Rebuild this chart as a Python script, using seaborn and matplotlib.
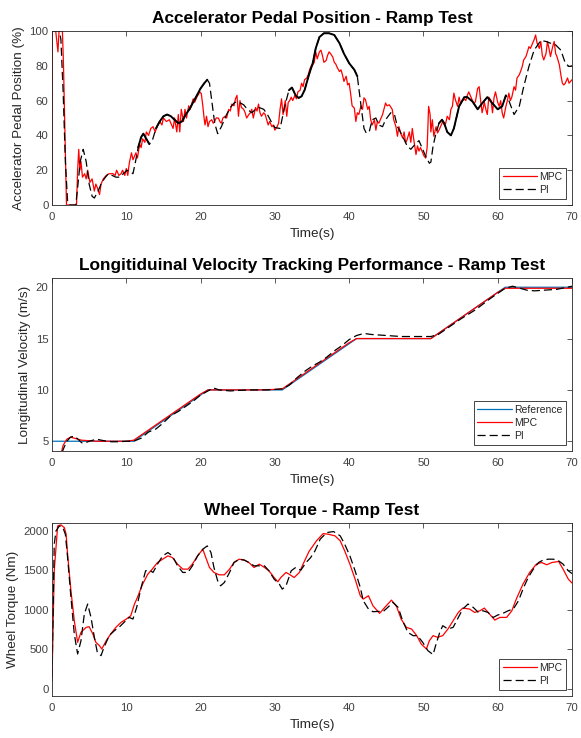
import numpy as np
import pandas as pd
import matplotlib
matplotlib.use("Agg")
import matplotlib.pyplot as plt
import seaborn as sns

# ---------------- Data ----------------
time_ticks = [0, 10, 20, 30, 40, 50, 60, 70]

# Panel 1: accelerator pedal position (%)
pedal_time_mpc = [0, 0.05, 0.5, 0.7, 0.8, 0.95, 1.4, 1.55, 1.75, 1.95, 3.3, 3.45, 3.6, 3.75, 3.9, 4.1, 4.4, 4.6, 4.8, 5.1,
                  5.4, 5.7, 5.9, 6.1, 6.4, 6.6, 6.9, 7.3, 7.7, 8.2, 8.5, 8.7, 9.0, 9.3, 9.5, 9.8, 10.0, 10.2, 10.4, 10.7,
                  10.9, 11.3, 11.5, 11.8, 12.0, 12.2, 12.5, 12.7, 13.0, 13.3, 13.6, 13.9, 14.2, 14.5, 14.8, 15.0, 15.4,
                  15.8, 16.1, 16.3, 16.5, 16.8, 17.0, 17.2, 17.4, 17.7, 17.9, 18.1, 18.4, 18.6, 18.8, 19.0, 19.2, 19.5,
                  19.9, 20.1, 20.3, 20.5, 20.6, 20.8, 21.0, 21.2, 21.5, 21.7, 21.9, 22.1, 22.4, 22.6, 22.8, 23.0, 23.3,
                  23.5, 23.8, 24.0, 24.2, 24.5, 24.7, 24.9, 25.1, 25.3, 25.5, 25.8, 26.0, 26.2, 26.5, 26.7, 26.9, 27.1,
                  27.4, 27.6, 27.8, 28.0, 28.2, 28.5, 28.7, 28.9, 29.1, 29.3, 29.6, 29.8, 30.0, 30.3, 30.5, 30.7, 30.9,
                  31.1, 31.4, 31.6, 31.8, 32.0, 32.2, 32.4, 32.7, 32.9, 33.1, 33.4, 33.6, 33.8, 34.0, 34.3, 34.5, 34.7,
                  34.9, 35.1, 35.3, 35.5, 35.7, 36.0, 36.2, 36.4, 36.6, 36.9, 37.1, 37.3, 37.5, 37.8, 38.0, 38.2, 38.4,
                  38.7, 38.9, 39.1, 39.3, 39.6, 39.8, 40.0, 40.2, 40.4, 40.7, 40.9, 41.1, 41.3, 41.6, 41.8, 42.0, 42.2,
                  42.5, 42.7, 42.9, 43.1, 43.4, 43.6, 43.8, 44.0, 44.3, 44.5, 44.9, 45.1, 45.4, 45.8, 46.0, 46.3, 46.5,
                  46.7, 47.0, 47.2, 47.4, 47.6, 47.8, 48.1, 48.3, 48.5, 48.7, 49.0, 49.2, 49.4, 49.6, 49.9, 50.1, 50.3,
                  50.5, 50.7, 50.9, 51.0, 51.2, 51.4, 51.7, 51.9, 52.1, 52.4, 52.6, 52.8, 53.0, 53.2, 53.5, 53.7, 53.9,
                  54.1, 54.3, 54.6, 54.8, 55.0, 55.2, 55.5, 55.7, 55.9, 56.1, 56.4, 56.6, 56.8, 57.0, 57.3, 57.5, 57.7,
                  57.9, 58.2, 58.4, 58.6, 58.8, 59.1, 59.3, 59.5, 59.7, 60.0, 60.2, 60.4, 60.6, 60.8, 61.1, 61.3, 61.5,
                  61.7, 61.9, 62.2, 62.4, 62.6, 62.9, 63.1, 63.3, 63.5, 63.8, 64.0, 64.2, 64.4, 64.7, 64.9, 65.1, 65.3,
                  65.6, 65.8, 66.0, 66.2, 66.5, 66.7, 66.9, 67.1, 67.4, 67.6, 67.8, 68.0, 68.3, 68.5, 68.7, 68.9, 69.1,
                  69.4, 69.6, 70.0]
pedal_mpc = [0, 100, 100, 92, 88, 100, 100, 80, 40, 0, 0, 20, 32, 20, 25, 16, 18, 15, 20, 13,
             15, 8, 12, 10, 6, 12, 15, 17, 18, 18, 17, 20, 17, 18, 20, 17, 21, 17, 24, 30,
             26, 30, 27, 35, 33, 38, 36, 42, 40, 44, 45, 42, 46, 48, 46, 50, 48,
             49, 46, 44, 50, 42, 52, 42, 55, 48, 55, 50, 57, 55, 58, 61, 59, 62,
             65, 64, 57, 49, 46, 51, 45, 48, 49, 47, 48, 50, 50, 48, 47, 50, 51,
             50, 55, 54, 58, 57, 61, 63, 51, 60, 56, 55, 53, 50, 52, 53, 55, 50,
             56, 54, 58, 53, 51, 53, 52, 49, 46, 48, 45, 46, 43, 45, 47, 55, 61,
             52, 60, 51, 59, 60, 62, 60, 63, 61, 65, 66, 70, 68, 72, 73, 75, 78,
             80, 80.5, 82, 88, 84, 88, 89, 86, 82, 83, 86, 88, 87, 85, 82, 81, 79,
             76.7, 77.7, 74.8, 71, 74, 69, 70, 64, 57, 55.7, 48, 53, 52, 57, 55, 61.6, 60.5,
             55, 56.7, 49, 46, 49, 43, 48, 47, 50, 52, 58.6, 57, 57.6, 55, 49, 45, 39.5,
             45, 40.5, 38.5, 42, 35.7, 37.5, 42, 36, 44, 37.6, 29, 34, 31, 33, 30, 28, 27,
             33, 56.7, 52, 42, 49, 39.5, 45, 41.4, 43, 46, 48, 46, 47, 51, 49, 55, 56.7,
             64.3, 60.5, 56.7, 62, 58, 59.5, 61, 60, 63, 65, 62, 60, 58, 59.5, 67, 68, 60,
             53, 59, 55, 52, 62, 60, 53, 61.6, 65, 59, 56.7, 60, 53, 50, 56.7, 60, 64.3,
             60, 62, 68, 66, 73, 74.8, 77, 79.6, 83.4, 85.3, 88, 91, 90, 93, 95, 97.7, 93,
             90, 94, 86, 83.4, 87, 94, 90, 85.3, 91, 94, 87, 85, 80.5, 74.8, 70, 69, 70,
             73, 70, 72]

pedal_time_pi = [0, 1.0, 1.2, 1.5, 1.8, 2.1, 2.3, 3.2, 3.5, 3.8, 4.2, 4.6, 5.0, 5.4, 5.7, 6.2, 6.7, 7.2, 7.6, 8.1,
                 8.6, 9.1, 9.6, 10.1, 10.5, 10.9, 11.2, 11.6, 12.0, 12.3, 12.7, 13.1, 13.5, 14.0, 14.5, 15.0, 15.5,
                 16.0, 16.5, 17.0, 17.5, 18.0, 18.5, 19.0, 19.5, 20.0, 20.5, 20.9, 21.2, 21.5, 21.9, 22.3, 22.8,
                 23.5, 24.0, 24.6, 25.2, 25.8, 26.3, 26.9, 27.4, 27.9, 28.5, 29.0, 29.5, 30.0, 30.7, 31.0, 31.4,
                 31.9, 32.3, 32.8, 33.2, 33.6, 34.0, 34.6, 35.1, 35.5, 36.0, 36.6, 37.3, 38.0, 38.7, 39.3, 40.0,
                 40.7, 41.1, 41.6, 42.0, 42.3, 42.7, 43.1, 43.6, 44.0, 44.5, 44.9, 45.6, 46.1, 46.5, 47.2, 47.8,
                 48.3, 48.7, 49.4, 49.9, 50.3, 50.8, 51.0, 51.3, 51.7, 52.1, 52.5, 52.8, 53.2, 53.7, 54.1, 54.8,
                 55.5, 55.9, 56.6, 57.3, 57.9, 58.6, 59.3, 60.0, 60.6, 61.1, 61.5, 62.2, 62.9, 63.5, 64.2, 64.9,
                 65.8, 66.5, 67.1, 67.8, 68.5, 69.1, 69.6, 70.0]
pedal_pi = [100, 100, 95, 65, 25, 2, 0, 0, 12, 25, 32, 25, 12, 5, 4, 8, 13, 16, 18, 17,
            16, 16, 18, 20, 19, 18, 24, 33, 39, 41, 38, 35, 37, 44, 48, 51, 52,
            51, 49, 47, 48, 52, 55, 59, 63, 67, 70, 72, 70, 60, 47, 41, 45,
            52, 56, 59, 59, 57.6, 55, 53, 55, 56, 55, 52, 48, 44.5, 44, 50, 58,
            66, 67.5, 63, 61.5, 62.5, 66, 75, 81.5, 90, 96.5, 98.7, 98.7, 97.7, 93, 87, 81.5,
            77.7, 74, 57, 44, 41.4, 42, 49, 50, 46, 45, 49, 53, 52, 45, 39.5, 34,
            32, 34, 37, 32, 28, 24, 24.6, 34, 41.4, 47, 49, 47, 42, 40, 44, 56.7,
            62, 62, 59.5, 55, 58.4, 62, 58.4, 55, 56.7, 63, 60, 52, 56.7, 68, 79.6, 89,
            94.5, 94, 93, 92, 89, 81.5, 79.6, 80]

# Panel 2: longitudinal velocity (m/s)
vel_time_ref = [0, 11, 21, 31, 41, 51, 61, 70]
vel_ref = [5, 5, 10, 10, 15, 15, 20, 20]

vel_time_mpc = [0, 1, 1.5, 2, 2.5, 3, 4, 5, 6, 8, 10, 11, 12, 14, 16, 18, 20, 21, 22, 25, 28, 30, 31,
                32, 34, 36, 38, 40, 41, 42, 45, 48, 51, 52, 54, 56, 58, 60, 61, 62, 65, 68, 70]
vel_mpc = [1.5, 3.2, 4.6, 5.2, 5.4, 5.3, 5.1, 5.05, 5.0, 5.0, 5.0, 5.1, 5.6, 6.6, 7.6, 8.6, 9.6, 10.0, 10.0,
           10.0, 10.0, 10.05, 10.1, 10.6, 11.6, 12.6, 13.6, 14.6, 15.0, 15.0, 15.0, 15.0, 15.0, 15.5, 16.5,
           17.5, 18.5, 19.5, 19.9, 19.9, 19.9, 19.9, 19.9]

vel_time_pi = [0, 1, 1.5, 2, 2.5, 3, 3.5, 4, 4.5, 5, 6, 7, 8, 9, 10, 11, 12, 13, 14, 15, 16, 17, 18, 19,
               20, 21, 21.7, 22.5, 24, 25, 27, 29, 30, 31, 32, 33, 34, 35, 36, 37, 38, 39, 40, 41, 42, 43,
               45, 47, 49, 51, 52, 53, 55, 57, 59, 60, 61, 62, 63, 64, 65, 66, 68, 70]
vel_pi = [0.5, 2.8, 4.2, 5.0, 5.4, 5.5, 5.2, 4.85, 4.85, 5.0, 5.2, 5.05, 4.95, 4.95, 5.0, 5.0, 5.3, 5.9,
          6.2, 6.8, 7.5, 7.9, 8.4, 8.9, 9.5, 9.9, 10.2, 10.0, 9.9, 9.95, 10.0, 10.0, 10.05, 10.1, 10.5,
          11.2, 11.8, 12.3, 12.7, 13.2, 13.8, 14.3, 14.9, 15.3, 15.5, 15.4, 15.3, 15.2, 15.2, 15.2, 15.4,
          15.9, 16.9, 17.8, 18.9, 19.4, 19.9, 20.1, 19.9, 19.7, 19.65, 19.7, 19.8, 20.1]

# Panel 3: wheel torque (Nm)
torque_time_mpc = [0, 0.3, 0.76, 1.2, 1.66, 1.9, 2.1, 2.55, 3.0, 3.45, 3.9, 4.6, 5.0, 5.5, 5.9, 6.4, 6.7, 7.3,
                   7.9, 8.6, 9.3, 10.0, 10.6, 11.1, 11.5, 12.2, 12.9, 13.5, 14.2, 14.9, 15.6, 16.2, 16.9, 17.6,
                   18.3, 18.9, 19.6, 20.3, 20.7, 21.2, 21.8, 22.5, 23.2, 23.9, 24.5, 25.2, 25.9, 26.5, 27.2,
                   27.9, 28.6, 29.2, 29.9, 30.4, 30.8, 31.5, 31.9, 32.6, 33.3, 33.9, 34.6, 35.6, 36.5, 37.2,
                   38.1, 38.8, 39.4, 40.1, 40.8, 41.5, 41.9, 42.6, 43.2, 44.1, 44.8, 45.7, 46.4, 47.0, 47.7,
                   48.4, 49.1, 49.7, 50.4, 50.8, 51.3, 51.9, 52.6, 53.3, 54.0, 54.7, 55.3, 56.2, 56.9, 57.6,
                   58.2, 58.9, 59.6, 60.3, 61.2, 61.9, 62.5, 63.4, 64.3, 65.2, 65.9, 66.6, 67.3, 68.2, 68.8,
                   69.5, 70.0]
torque_mpc = [105, 1495, 2063, 2076, 2042, 1958, 1705, 1242, 863, 590, 716, 779, 787, 695, 590, 547, 505, 610,
              695, 779, 842, 884, 926, 1074, 1158, 1326, 1453, 1516, 1600, 1642, 1684, 1663, 1579, 1516,
              1516, 1579, 1684, 1768, 1663, 1537, 1474, 1444, 1444, 1516, 1600, 1642, 1630, 1600, 1537,
              1579, 1537, 1495, 1410, 1356, 1410, 1474, 1453, 1410, 1474, 1600, 1740, 1874, 1966, 1958,
              1937, 1874, 1747, 1579, 1390, 1179, 1137, 1179, 1053, 956, 1032, 1124, 1040, 884, 779,
              758, 674, 568, 505, 610, 674, 653, 674, 758, 863, 968, 1023, 1011, 968, 989,
              1023, 947, 872, 905, 905, 989, 1137, 1326, 1474, 1579, 1600, 1571, 1600, 1613, 1516,
              1390, 1340]

torque_time_pi = [0, 0.3, 0.54, 1.0, 1.43, 1.8, 2.1, 2.55, 3.0, 3.45, 3.9, 4.35, 4.8, 5.25, 5.7, 6.1, 6.6, 7.0,
                  7.7, 8.4, 9.1, 9.7, 10.4, 10.9, 11.4, 12.0, 12.6, 13.1, 13.6, 14.2, 14.9, 15.6, 16.2, 16.9,
                  17.6, 18.3, 18.9, 19.6, 20.3, 20.9, 21.4, 21.8, 22.3, 22.7, 23.2, 23.9, 24.5, 25.2, 25.9,
                  26.5, 27.2, 27.9, 28.6, 29.2, 29.9, 30.6, 31.0, 31.5, 32.2, 32.8, 33.5, 34.2, 34.8, 35.4,
                  36.1, 37.0, 37.9, 38.8, 39.4, 40.1, 40.8, 41.5, 41.9, 42.6, 43.2, 43.9, 44.6, 45.2, 45.9,
                  46.6, 47.2, 47.9, 48.6, 49.2, 49.9, 50.6, 51.3, 51.7, 52.2, 52.6, 53.3, 54.0, 54.7, 55.3,
                  56.0, 56.7, 57.4, 58.0, 58.7, 59.4, 60.0, 60.7, 61.4, 62.1, 62.8, 63.4, 64.1, 64.8, 65.5,
                  66.1, 66.8, 67.5, 68.2, 68.8, 69.5, 70.0]
torque_pi = [150, 1832, 2000, 2063, 2050, 1958, 1663, 1158, 695, 442, 610, 947, 1074, 905, 653, 463, 421, 526,
             674, 737, 787, 842, 905, 884, 1032, 1284, 1495, 1503, 1474, 1579, 1684, 1726, 1684, 1558,
             1474, 1474, 1558, 1684, 1768, 1810, 1726, 1537, 1368, 1305, 1347, 1474, 1600, 1642, 1630,
             1600, 1558, 1558, 1558, 1495, 1390, 1326, 1263, 1305, 1495, 1537, 1503, 1600, 1660, 1747,
             1895, 1979, 1992, 1937, 1832, 1684, 1495, 1284, 1116, 1011, 977, 981, 981, 1032, 1095,
             1032, 863, 716, 674, 674, 590, 484, 434, 568, 716, 800, 758, 779, 905, 1011,
             1074, 1032, 968, 989, 968, 905, 935, 956, 989, 1011, 1116, 1263, 1410, 1516, 1600,
             1630, 1642, 1642, 1621, 1579, 1495, 1460]

# intervals where the PI pedal trace renders as a continuous (solid-looking) line
pi_solid_ranges = [(11.6, 13.3), (14.0, 21.0), (31.6, 41.2), (51.8, 61.2)]

# ---------------- Styling ----------------
sns.set_theme(style="white")
plt.rcParams['font.family'] = ['Liberation Sans', 'DejaVu Sans']
AX_COL = '#262626'
TICK_COL = '#404040'
plt.rcParams.update({
    'axes.edgecolor': AX_COL,
    'axes.linewidth': 0.6,
    'axes.labelcolor': AX_COL,
    'xtick.color': TICK_COL,
    'ytick.color': TICK_COL,
})

RED = '#ff0000'
BLUE = '#0072bd'
DASH = (0, (6.5, 3.2))

fig = plt.figure(figsize=(5.81, 7.38), dpi=100)
W, H = 581, 738
def axes_at(left, top, right, bottom):
    return fig.add_axes([left / W, 1 - bottom / H, (right - left) / W, (bottom - top) / H])

ax1 = axes_at(52, 31, 572, 205)
ax2 = axes_at(52, 278, 572, 451)
ax3 = axes_at(52, 523, 572, 696)

def style_axes(ax, title, ylabel, ylim, yticks):
    ax.set_xlim(0, 70)
    ax.set_ylim(*ylim)
    ax.set_xticks(time_ticks)
    ax.set_yticks(yticks)
    ax.tick_params(direction='in', top=True, right=True, length=3.5, width=0.6,
                   labelsize=8.2, pad=5.0, axis='x')
    ax.tick_params(direction='in', top=True, right=True, length=3.5, width=0.6,
                   labelsize=8.2, pad=2.5, axis='y')
    ax.set_title(title, fontsize=12.4, fontweight='bold', color='black', pad=5.5)
    ax.set_xlabel('Time(s)', fontsize=9.7, labelpad=4.5)
    ax.set_ylabel(ylabel, fontsize=9.7, labelpad=3.2)
    for s in ax.spines.values():
        s.set_visible(True)
        s.set_color(AX_COL)
        s.set_linewidth(0.6)

def legend(ax, handles, labels):
    lg = ax.legend(handles, labels, loc='lower right', fontsize=7.5, frameon=True, fancybox=False,
                   edgecolor=AX_COL, framealpha=1, handlelength=3.3, handletextpad=0.2,
                   borderpad=0.35, labelspacing=0.3, borderaxespad=0.6)
    lg.get_frame().set_linewidth(0.6)
    for t in lg.get_texts():
        t.set_color(AX_COL)

# ---- Panel 1 ----
df_p_mpc = pd.DataFrame({'t': pedal_time_mpc, 'v': pedal_mpc})
df_p_pi = pd.DataFrame({'t': pedal_time_pi, 'v': pedal_pi})
sns.lineplot(data=df_p_mpc, x='t', y='v', ax=ax1, color=RED, lw=0.9, estimator=None, sort=False, label='MPC')
sns.lineplot(data=df_p_pi, x='t', y='v', ax=ax1, color='black', lw=0.9, linestyle=DASH, estimator=None,
             sort=False, label='PI')
for a, b in pi_solid_ranges:
    sub = df_p_pi[(df_p_pi.t >= a) & (df_p_pi.t <= b)]
    sns.lineplot(data=sub, x='t', y='v', ax=ax1, color='black', lw=1.4, estimator=None, sort=False,
                 label='_nolegend_', legend=False)
style_axes(ax1, 'Accelerator Pedal Position - Ramp Test', 'Accelerator Pedal Position (%)', (0, 100),
           [0, 20, 40, 60, 80, 100])
l1 = ax1.get_lines()
legend(ax1, [l1[0], l1[1]], ['MPC', 'PI'])

# ---- Panel 2 ----
df_v_ref = pd.DataFrame({'t': vel_time_ref, 'v': vel_ref})
df_v_mpc = pd.DataFrame({'t': vel_time_mpc, 'v': vel_mpc})
df_v_pi = pd.DataFrame({'t': vel_time_pi, 'v': vel_pi})
sns.lineplot(data=df_v_ref, x='t', y='v', ax=ax2, color=BLUE, lw=0.9, estimator=None, sort=False, label='Reference')
sns.lineplot(data=df_v_mpc, x='t', y='v', ax=ax2, color=RED, lw=0.9, estimator=None, sort=False, label='MPC')
sns.lineplot(data=df_v_pi, x='t', y='v', ax=ax2, color='black', lw=0.9, linestyle=DASH, estimator=None,
             sort=False, label='PI')
style_axes(ax2, 'Longitiduinal Velocity Tracking Performance - Ramp Test', 'Longitudinal Velocity (m/s)',
           (4.05, 20.9), [5, 10, 15, 20])
l2 = ax2.get_lines()
legend(ax2, l2[:3], ['Reference', 'MPC', 'PI'])

# ---- Panel 3 ----
df_t_mpc = pd.DataFrame({'t': torque_time_mpc, 'v': torque_mpc})
df_t_pi = pd.DataFrame({'t': torque_time_pi, 'v': torque_pi})
sns.lineplot(data=df_t_mpc, x='t', y='v', ax=ax3, color=RED, lw=0.9, estimator=None, sort=False, label='MPC')
sns.lineplot(data=df_t_pi, x='t', y='v', ax=ax3, color='black', lw=0.9, linestyle=DASH, estimator=None,
             sort=False, label='PI')
style_axes(ax3, 'Wheel Torque - Ramp Test', 'Wheel Torque (Nm)', (-90, 2100), [0, 500, 1000, 1500, 2000])
l3 = ax3.get_lines()
legend(ax3, l3[:2], ['MPC', 'PI'])

fig.savefig('out.png', dpi=100, facecolor='white')
